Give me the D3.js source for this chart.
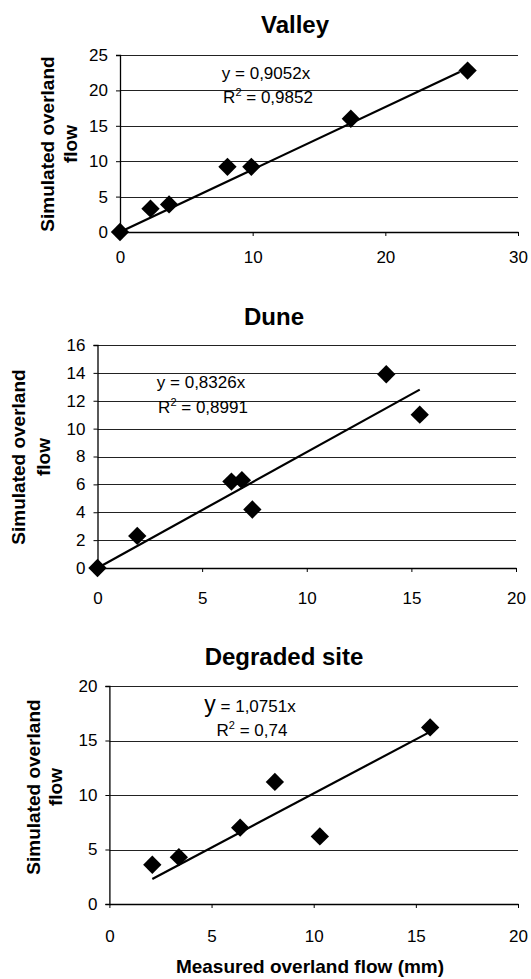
<!DOCTYPE html>
<html>
<head>
<meta charset="utf-8">
<script src="https://cdn.jsdelivr.net/npm/d3@7"></script>
<style>
  body { margin: 0; background: #fff; }
  text { font-family: "Liberation Sans", Arial, sans-serif; fill: #000; }
</style>
</head>
<body>
<div id="chart"></div>
<script>
// Data
let valleyX = [0, 2.3, 3.7, 8.1, 9.9, 17.4, 26.2];
let valleyY = [0, 3.3, 3.9, 9.2, 9.2, 16.0, 22.8];
let valleyTrend = [[0, 0], [25.6, 22.6]];

let duneX = [0, 1.9, 6.4, 6.9, 7.4, 13.8, 15.4];
let duneY = [0, 2.3, 6.2, 6.3, 4.2, 13.9, 11.0];
let duneTrend = [[0, 0], [15.4, 12.8]];

let degradedX = [2.1, 3.4, 6.4, 8.1, 10.3, 15.7];
let degradedY = [3.6, 4.3, 7.0, 11.2, 6.2, 16.2];
let degradedTrend = [[2.1, 2.3], [15.6, 15.7]];

let valleyXTicks = [0, 10, 20, 30];
let valleyYTicks = [0, 5, 10, 15, 20, 25];
let duneXTicks = [0, 5, 10, 15, 20];
let duneYTicks = [0, 2, 4, 6, 8, 10, 12, 14, 16];
let degradedXTicks = [0, 5, 10, 15, 20];
let degradedYTicks = [0, 5, 10, 15, 20];

let titles = ["Valley", "Dune", "Degraded site"];
let equations = ["0,9052x", "0,8326x", "1,0751x"];
let r2Values = ["0,9852", "0,8991", "0,74"];
let yAxisLabel = ["Simulated overland", "flow"];
let xAxisLabel = "Measured overland flow (mm)";

let svgWidth = 531;
let svgHeight = 979;

let svg = d3.select("#chart")
    .append("svg")
    .attr("width", svgWidth)
    .attr("height", svgHeight);

svg.append("rect").attr("width", svgWidth).attr("height", svgHeight).attr("fill", "#fff");

// Layout of each small chart (pixel boxes)
let panels = [
  { xs: valleyX, ys: valleyY, trend: valleyTrend, xTicks: valleyXTicks, yTicks: valleyYTicks,
    left: 120, right: 518, top: 55, bottom: 232, labelGap: 32,
    titleX: 295, titleY: 33, eqX: 266, eqY: 79, r2Y: 103, ylab: [54, 77], ylabY: 144, bigY: false },
  { xs: duneX, ys: duneY, trend: duneTrend, xTicks: duneXTicks, yTicks: duneYTicks,
    left: 97.5, right: 516, top: 345, bottom: 568, labelGap: 37,
    titleX: 274, titleY: 325, eqX: 201, eqY: 388, r2Y: 413, ylab: [25, 50], ylabY: 457, bigY: false },
  { xs: degradedX, ys: degradedY, trend: degradedTrend, xTicks: degradedXTicks, yTicks: degradedYTicks,
    left: 109.4, right: 518, top: 686, bottom: 904, labelGap: 39,
    titleX: 284, titleY: 665, eqX: 250, eqY: 712, r2Y: 736, ylab: [40, 62], ylabY: 787, bigY: true }
];

panels.forEach(function(p, i) {
  let xScale = d3.scaleLinear()
      .domain([p.xTicks[0], p.xTicks[p.xTicks.length - 1]])
      .range([p.left, p.right]);
  let yScale = d3.scaleLinear()
      .domain([p.yTicks[0], p.yTicks[p.yTicks.length - 1]])
      .range([p.bottom, p.top]);

  let g = svg.append("g");

  // horizontal gridlines
  g.selectAll(".grid")
    .data(p.yTicks.slice(1))
    .enter()
    .append("line")
    .attr("x1", p.left)
    .attr("x2", p.right)
    .attr("y1", d => Math.round(yScale(d)) + 0.5)
    .attr("y2", d => Math.round(yScale(d)) + 0.5)
    .attr("stroke", "#222")
    .attr("stroke-width", 1.2);

  // y axis
  let yAxis = d3.axisLeft(yScale)
      .tickValues(p.yTicks)
      .tickSize(4)
      .tickPadding(8)
      .tickFormat(d3.format("d"));
  let yG = g.append("g")
      .attr("transform", `translate(${p.left},0)`)
      .call(yAxis);
  yG.selectAll("text").attr("font-size", "17px").attr("font-family", "Liberation Sans, Arial, sans-serif");
  yG.select(".domain").attr("stroke", "#000").attr("stroke-width", 1.3);
  yG.selectAll(".tick line").attr("stroke", "#000");

  // x axis
  let xAxis = d3.axisBottom(xScale)
      .tickValues(p.xTicks)
      .tickSizeInner(4)
      .tickSizeOuter(0)
      .tickPadding(p.labelGap - 17)
      .tickFormat(d3.format("d"));
  let xG = g.append("g")
      .attr("transform", `translate(0,${p.bottom})`)
      .call(xAxis);
  xG.selectAll("text").attr("font-size", "17px").attr("font-family", "Liberation Sans, Arial, sans-serif");
  xG.select(".domain").attr("stroke", "#000").attr("stroke-width", 1.3);
  xG.selectAll(".tick line").attr("stroke", "#000");

  // trend line
  g.append("path")
    .datum(p.trend)
    .attr("d", d3.line().x(d => xScale(d[0])).y(d => yScale(d[1])))
    .attr("fill", "none")
    .attr("stroke", "#000")
    .attr("stroke-width", 2.2);

  // diamond markers
  let diamond = d3.symbol().type(d3.symbolSquare).size(168);
  g.selectAll(".pt")
    .data(p.xs.map((x, k) => [x, p.ys[k]]))
    .enter()
    .append("path")
    .attr("d", diamond)
    .attr("transform", d => `translate(${xScale(d[0])},${yScale(d[1])}) rotate(45)`)
    .attr("fill", "#000");

  // title
  g.append("text")
    .attr("x", p.titleX)
    .attr("y", p.titleY)
    .attr("text-anchor", "middle")
    .attr("font-size", "24px")
    .attr("font-weight", "bold")
    .text(titles[i]);

  // equation
  let eq = g.append("text")
    .attr("x", p.eqX)
    .attr("y", p.eqY)
    .attr("text-anchor", "middle")
    .attr("font-size", "17px");
  eq.append("tspan").attr("font-size", p.bigY ? "23px" : "17px").text("y");
  eq.append("tspan").text(" = " + equations[i]);

  let r2 = g.append("text")
    .attr("x", p.eqX + 2)
    .attr("y", p.r2Y)
    .attr("text-anchor", "middle")
    .attr("font-size", "17px");
  r2.append("tspan").text("R");
  r2.append("tspan").attr("font-size", "11px").attr("dy", -7).text("2");
  r2.append("tspan").attr("dy", 7).text(" = " + r2Values[i]);

  // y axis title (two lines)
  yAxisLabel.forEach(function(line, k) {
    g.append("text")
      .attr("transform", `translate(${p.ylab[k]},${p.ylabY}) rotate(-90)`)
      .attr("text-anchor", "middle")
      .attr("font-size", "19px")
      .attr("font-weight", "bold")
      .text(line);
  });
});

// x axis title under the last chart
svg.append("text")
  .attr("x", 310)
  .attr("y", 973)
  .attr("text-anchor", "middle")
  .attr("font-size", "19px")
  .attr("font-weight", "bold")
  .text(xAxisLabel);
</script>
</body>
</html>
